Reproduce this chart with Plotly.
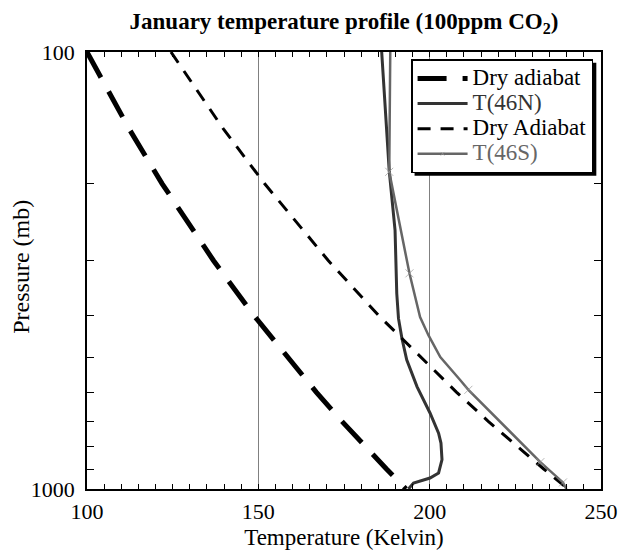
import plotly.graph_objects as go

# ---- data ----
P_DRY = [100, 150, 200, 300, 400, 500, 600, 700, 800, 900, 1000]
T_DRY1 = [100.0, 112.3, 121.9, 136.9, 148.6, 158.5, 166.9, 174.4, 181.2, 187.4, 193.1]
T_DRY2 = [124.5, 139.8, 151.8, 170.4, 185.0, 197.4, 207.8, 217.1, 225.6, 233.3, 240.4]

P_46N = [100, 187, 256, 357, 407, 452, 506, 583, 670, 745, 785, 857, 919, 944, 969, 1000]
T_46N = [186.0, 188.2, 189.9, 190.4, 190.9, 191.9, 193.3, 196.3, 200.1, 202.6, 203.3, 203.6,
         202.6, 200.1, 195.3, 193.8]

P_46S = [100, 188, 321, 404, 444, 499, 563, 593, 868, 966, 1000]
T_46S = [188.5, 188.2, 194.1, 197.2, 199.6, 203.1, 208.9, 211.3, 232.3, 238.9, 239.9]
MARKED_46S = [False, True, True, False, False, False, False, True, True, True, False]

X_TICKS = [100, 150, 200, 250]
Y_TICKS = [100, 1000]
Y_MINOR = [200, 300, 400, 500, 600, 700, 800, 900]

FONT = "Liberation Serif, Times New Roman, serif"


def lg(text, color="#000000"):
    return f"<span style='font-size:23px;color:{color}'>{text}</span>"


fig = go.Figure()
fig.add_trace(go.Scatter(x=T_DRY1, y=P_DRY, mode="lines", name=lg("Dry adiabat"),
                         line=dict(color="black", width=5, dash="29px,16px")))
fig.add_trace(go.Scatter(x=T_46N, y=P_46N, mode="lines", name=lg("T(46N)", "#333333"),
                         line=dict(color="#333333", width=3)))
fig.add_trace(go.Scatter(x=T_DRY2, y=P_DRY, mode="lines", name=lg("Dry Adiabat"),
                         line=dict(color="black", width=3, dash="13px,10px")))
fig.add_trace(go.Scatter(x=T_46S, y=P_46S, mode="lines+markers", name=lg("T(46S)", "#666666"),
                         line=dict(color="#666666", width=2.5),
                         marker=dict(symbol="x-thin", size=[8 if m else 0 for m in MARKED_46S],
                                     line=dict(color="#999999", width=1), color="#999999")))

fig.update_layout(
    width=619, height=550,
    margin=dict(l=87, r=18, t=52, b=61, autoexpand=False),
    paper_bgcolor="white", plot_bgcolor="white",
    font=dict(family=FONT, size=22, color="black"),
    title=dict(text="<b>January temperature profile (100ppm CO<sub>2</sub>)</b>",
               x=0.5, xref="paper", xanchor="center", y=0.962, yref="container",
               yanchor="middle", font=dict(size=23, family=FONT), automargin=False),
    showlegend=True,
    legend=dict(x=0.6305, y=0.983, xanchor="left", yanchor="top",
                bgcolor="white", bordercolor="black", borderwidth=1.5,
                font=dict(size=17, family=FONT, color="black"),
                itemwidth=50, tracegroupgap=0),
    annotations=[dict(text="Pressure (mb)", textangle=-90, x=-0.13, y=0.509,
                      xref="paper", yref="paper", xanchor="center", yanchor="middle",
                      showarrow=False, font=dict(size=24, family=FONT))],
    # drop shadow behind the legend box
    shapes=[dict(type="rect", xref="paper", yref="paper", x0=0.6373, x1=0.9909,
                 y0=0.7171, y1=0.9753, fillcolor="black", line=dict(width=0), layer="above")],
)

fig.update_xaxes(range=[100, 250], tickvals=X_TICKS, ticks="inside", ticklen=5,
                 tickcolor="black", showline=True, linecolor="black", linewidth=1.5,
                 mirror="ticks", showgrid=True, gridcolor="#808080", gridwidth=1,
                 zeroline=False, tickfont=dict(size=22), automargin=False,
                 ticklabelstandoff=2,
                 minor=dict(dtick=5, ticks="inside", ticklen=5, tickcolor="black", showgrid=False),
                 title=dict(text="Temperature (Kelvin)", font=dict(size=23), standoff=6))
fig.update_yaxes(type="log", range=[3, 2], tickvals=Y_TICKS, ticks="inside", ticklen=7,
                 tickcolor="black", showline=True, linecolor="black", linewidth=1.5,
                 mirror="ticks", showgrid=False, zeroline=False, tickfont=dict(size=22),
                 automargin=False, ticklabelstandoff=6,
                 minor=dict(tickvals=Y_MINOR, ticks="inside", ticklen=7, tickcolor="black",
                            showgrid=False))

fig.write_html("out.html")
